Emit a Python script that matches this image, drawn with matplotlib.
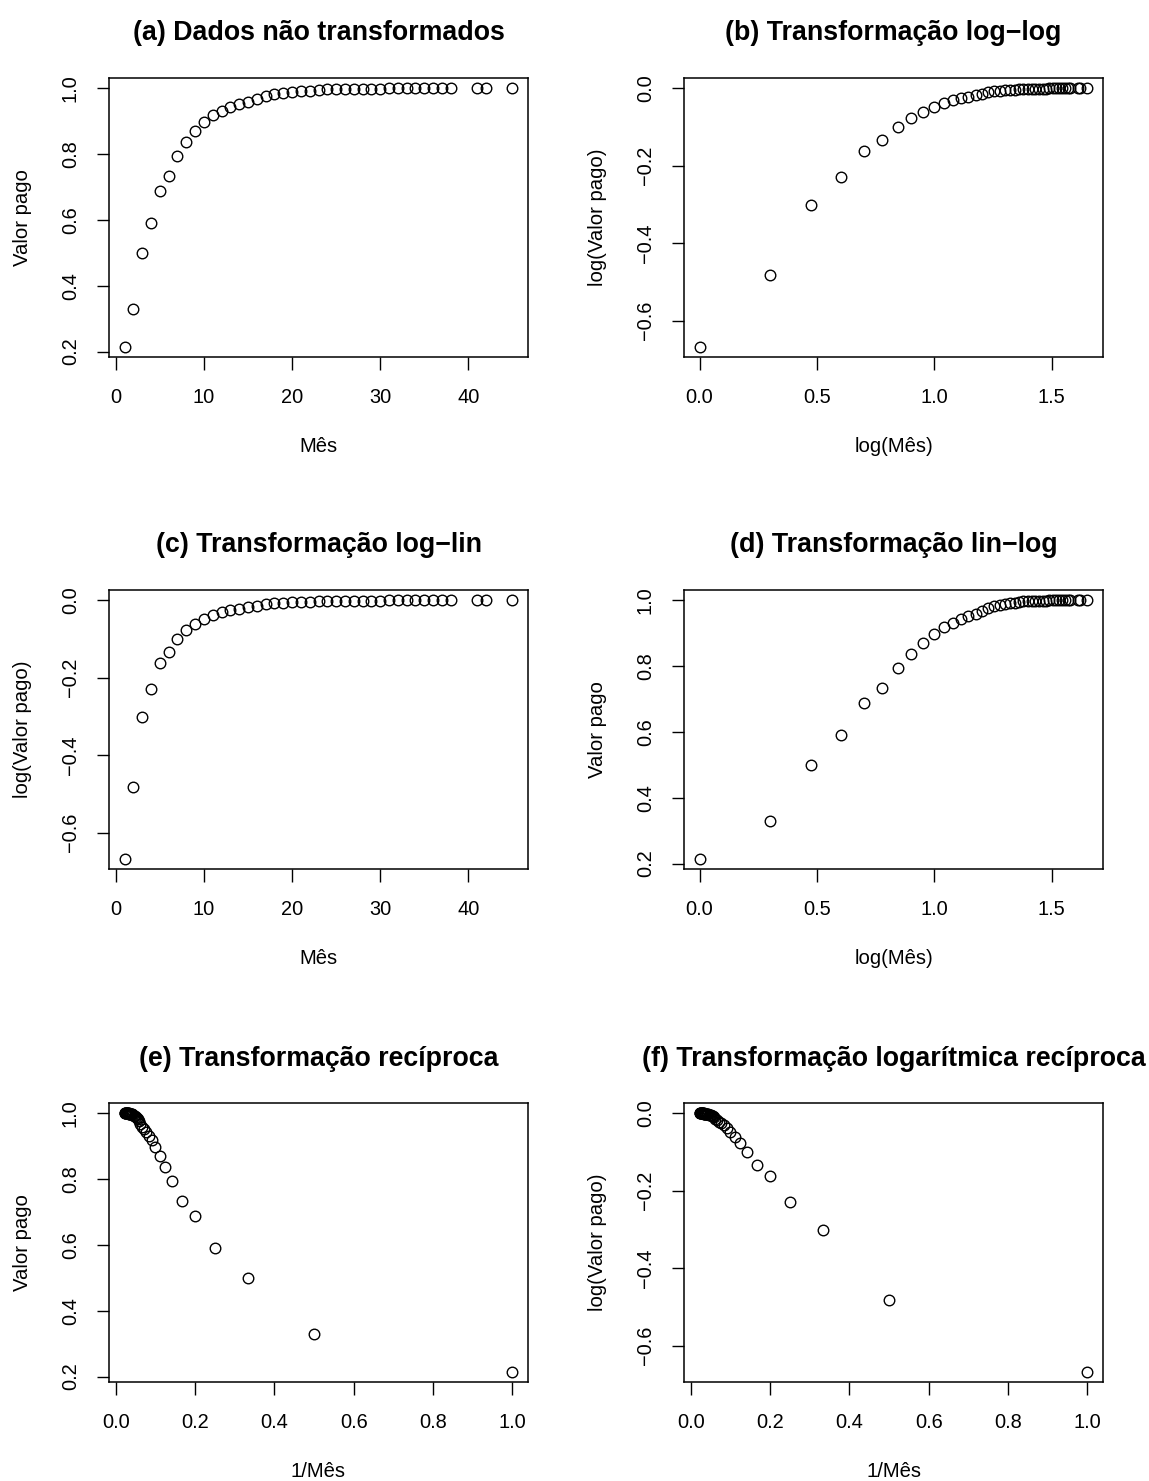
import numpy as np
import matplotlib.pyplot as plt
from matplotlib.ticker import FuncFormatter

plt.rcParams['font.family'] = ['Liberation Sans', 'DejaVu Sans']
plt.rcParams['axes.unicode_minus'] = True

# dados
mes = [1, 2, 3, 4, 5, 6, 7, 8, 9, 10, 11, 12, 13, 14, 15, 16, 17, 18, 19, 20,
       21, 22, 23, 24, 25, 26, 27, 28, 29, 30, 31, 32, 33, 34, 35, 36, 37, 38,
       41, 42, 45]
valor_pago = [0.215, 0.330, 0.500, 0.590, 0.689, 0.734, 0.793, 0.837, 0.871, 0.897,
              0.918, 0.932, 0.944, 0.952, 0.959, 0.967, 0.977, 0.982, 0.986, 0.988,
              0.991, 0.993, 0.996, 0.997, 0.998, 0.998, 0.999, 0.999, 0.999, 0.999,
              1.0, 1.0, 1.0, 1.0, 1.0, 1.0, 1.0, 1.0,
              1.0, 1.0, 1.0]

mes = np.array(mes, dtype=float)
valor_pago = np.array(valor_pago)
log_mes = np.log10(mes)
log_valor = np.log10(valor_pago)
inv_mes = 1 / mes

ticks_mes = [0, 10, 20, 30, 40]
ticks_logmes = [0.0, 0.5, 1.0, 1.5]
ticks_inv = [0.0, 0.2, 0.4, 0.6, 0.8, 1.0]
ticks_valor = [0.2, 0.4, 0.6, 0.8, 1.0]
ticks_logvalor = [-0.6, -0.4, -0.2, 0.0]


def formato(casas):
    def f(v, pos):
        v = round(v, 6) + 0.0
        return f'{v:.{casas}f}'.replace('-', '\u2212')
    return FuncFormatter(f)


M = '\u2212'
paineis = [
    ('(a) Dados não transformados', mes, valor_pago, 'Mês', 'Valor pago', ticks_mes, ticks_valor, 0),
    (f'(b) Transformação log{M}log', log_mes, log_valor, 'log(Mês)', 'log(Valor pago)', ticks_logmes, ticks_logvalor, 1),
    (f'(c) Transformação log{M}lin', mes, log_valor, 'Mês', 'log(Valor pago)', ticks_mes, ticks_logvalor, 0),
    (f'(d) Transformação lin{M}log', log_mes, valor_pago, 'log(Mês)', 'Valor pago', ticks_logmes, ticks_valor, 1),
    ('(e) Transformação recíproca', inv_mes, valor_pago, '1/Mês', 'Valor pago', ticks_inv, ticks_valor, 1),
    ('(f) Transformação logarítmica recíproca', inv_mes, log_valor, '1/Mês', 'log(Valor pago)', ticks_inv, ticks_logvalor, 1),
]

W, H = 1149, 1481
fig = plt.figure(figsize=(W / 100, H / 100), dpi=100)

topos = [78, 590, 1103]
esquerdas = [109, 684]
larg, alt = 419, 279

for i, (titulo, x, y, xlab, ylab, xt, yt, xdec) in enumerate(paineis):
    lin, col = divmod(i, 2)
    ax = fig.add_axes([esquerdas[col] / W, 1 - (topos[lin] + alt) / H, larg / W, alt / H])
    ax.plot(x, y, 'o', mfc='none', mec='black', ms=7.6, mew=1.0)
    ax.margins(0.04)
    ax.set_xticks(xt)
    ax.set_yticks(yt)
    ax.xaxis.set_major_formatter(formato(xdec))
    ax.yaxis.set_major_formatter(formato(1))
    ax.tick_params(direction='out', length=9, width=1.0, labelsize=14.4, pad=12,
                   top=False, right=False)
    ax.tick_params(axis='x', pad=13)
    ax.tick_params(axis='y', labelrotation=90)
    for lab in ax.get_yticklabels():
        lab.set_va('center')
    for s in ax.spines.values():
        s.set_linewidth(1.1)
    ax.set_title(titulo, fontsize=19.3, fontweight='bold', pad=27)
    ax.set_xlabel(xlab, fontsize=14.6, labelpad=22)
    ax.set_ylabel(ylab, fontsize=14.6, labelpad=21)

fig.savefig('out.png', dpi=100)
